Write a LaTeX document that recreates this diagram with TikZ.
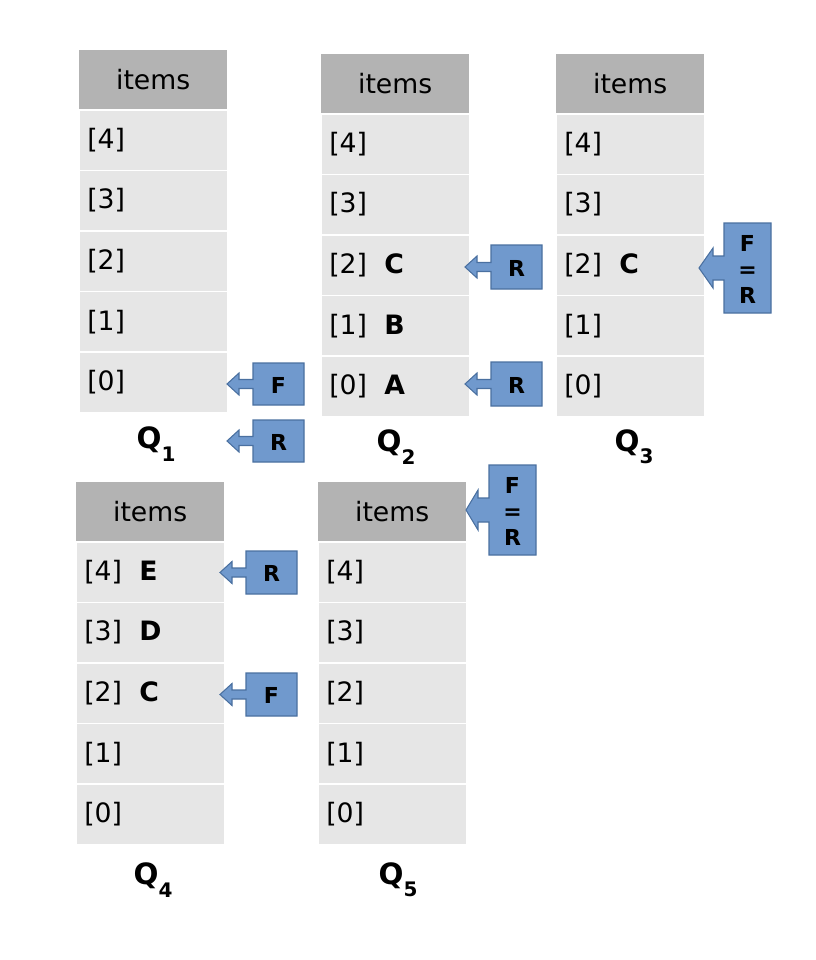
\documentclass[tikz,border=0pt]{standalone}
\usepackage{fontspec}
\setmainfont{DejaVu Sans}
\definecolor{hdr}{HTML}{B3B3B3}
\definecolor{cellc}{HTML}{E6E6E6}
\definecolor{cfill}{HTML}{7099CD}
\definecolor{cdraw}{HTML}{4A70A0}
\tikzset{
  hdrcell/.style={fill=hdr, draw=white, line width=1pt, minimum width=149*0.75pt, minimum height=60*0.75pt, inner sep=0pt, font=\fontsize{20}{24}\selectfont},
  rowcell/.style={fill=cellc, draw=white, line width=1.2pt, minimum width=149*0.75pt, minimum height=60.6*0.75pt, inner sep=0pt},
  celltxt/.style={anchor=base west, inner sep=0pt, font=\fontsize{20}{24}\selectfont},
  lettxt/.style={anchor=base west, inner sep=0pt, font=\fontsize{20}{24}\selectfont\bfseries},
  qlab/.style={inner sep=0pt, font=\fontsize{22}{26}\selectfont\bfseries},
  callbox/.style={fill=cfill, draw=cdraw, line width=0.8pt, line join=miter},
  calltxt/.style={inner sep=0pt, align=center, font=\fontsize{16.5}{19.5}\selectfont\bfseries}
}
% #1 name, #2 x left, #3 y top, #4 list idx/letter (rows 4..0)
\newcommand\qtab[4]{%
  \node[hdrcell, anchor=north west] (#1h) at (#2,#3) {items};
  \foreach \idx/\lt [count=\i from 0] in {#4} {
    \node[rowcell, anchor=north west] (#1r\idx) at (#2,#3+60+\i*60.6) {};
    \node[celltxt] (#1i\idx) at (#2+9,#3+60+\i*60.6+30.3+9) {[\idx]};
    \node[lettxt] (#1l\idx) at (#2+64,#3+60+\i*60.6+30.3+9) {\lt};
  }
}
\newcommand\qsub[1]{Q\raisebox{-0.42em}{\fontsize{15}{17}\selectfont #1}}
% #1 name, #2 box left, #3 box top, #4 width, #5 height, #6 head half, #7 shaft half, #8 head base offset, #9 tip offset, then text
\newcommand\callout[9]{\calloutB{#1}{#2}{#3}{#4}{#5}{#6}{#7}{#8}{#9}}
\newcommand\calloutB[9]{\def\cA{#1}\def\cB{#2}\def\cC{#3}\def\cD{#4}\def\cE{#5}\def\cF{#6}\def\cG{#7}\def\cH{#8}\def\cI{#9}\calloutC}
\newcommand\calloutC[1]{%
  \begin{scope}[shift={(\cB,\cC+\cE/2)}]
    \path[callbox] (0,-\cG) -- (-\cH,-\cG) -- (-\cH,-\cF) -- (-\cI,0) -- (-\cH,\cF) -- (-\cH,\cG) -- (0,\cG)
      -- (0,\cE/2) -- (\cD,\cE/2) -- (\cD,-\cE/2) -- (0,-\cE/2) -- cycle;
    \node[calltxt] (\cA) at (\cD/2,1) {#1};
  \end{scope}
}
\begin{document}
\begin{tikzpicture}[x=0.75pt,y=-0.75pt]
\useasboundingbox (0,0) rectangle (816,960);
\qtab{a}{78}{49}{4/,3/,2/,1/,0/}
\qtab{b}{320}{53}{4/,3/,2/C,1/B,0/A}
\qtab{c}{555}{53}{4/,3/,2/C,1/,0/}
\qtab{d}{75}{481}{4/E,3/D,2/C,1/,0/}
\qtab{e}{317}{481}{4/,3/,2/,1/,0/}
\node[qlab] (q1) at (156,444) {\qsub{1}};
\node[qlab] (q2) at (396,447) {\qsub{2}};
\node[qlab] (q3) at (634,447) {\qsub{3}};
\node[qlab] (q4) at (153,880) {\qsub{4}};
\node[qlab] (q5) at (398,880) {\qsub{5}};
\callout{f1}{253}{363}{51}{42}{11}{4.5}{14}{26}{F}
\callout{r1}{253}{420}{51}{42}{11}{4.5}{14}{26}{R}
\callout{r2a}{491}{245}{51}{44}{11}{4.5}{14}{26}{R}
\callout{r2b}{491}{362}{51}{44}{11}{4.5}{14}{26}{R}
\callout{fr3}{724}{223}{47}{90}{20}{12}{11}{25}{F\\=\\R}
\callout{fr5}{489}{465}{47}{90}{20}{12}{11}{23}{F\\=\\R}
\callout{r4}{246}{551}{51}{43}{11}{4.5}{14}{26}{R}
\callout{f4}{246}{673}{51}{43}{11}{4.5}{14}{26}{F}
\end{tikzpicture}
\end{document}
